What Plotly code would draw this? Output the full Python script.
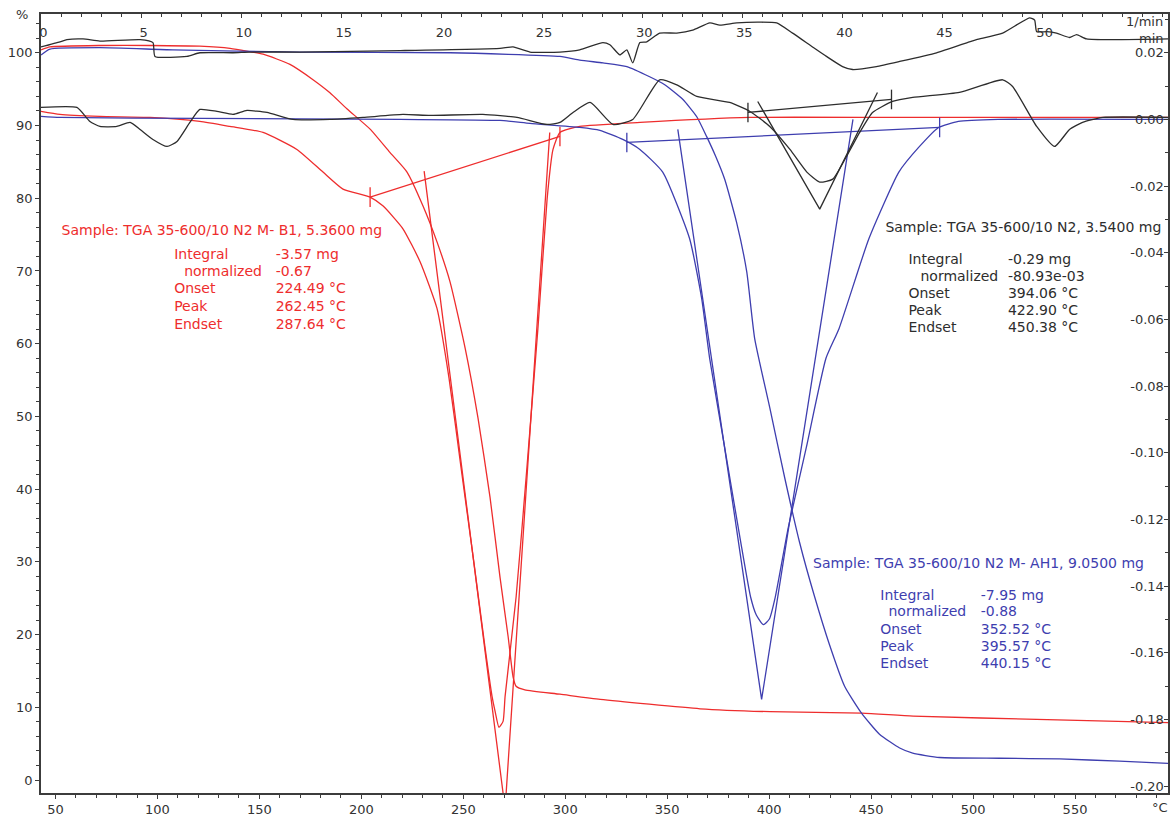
import plotly.graph_objects as go

# ---------------- sample M-B1, 5.3600 mg (red) ----------------
b1_tga_temp = [42.9, 47.3, 71.8, 96.3, 120.8, 135.6, 151.8, 165.0, 176.3, 184.6, 192.9, 204.3,
               214.0, 222.4, 230.3, 237.1, 243.5, 250.9, 257.2, 263.1, 268.0, 272.0, 274.4,
               275.9, 280.2, 297.4, 317.1, 366.1, 400.4, 445.5, 470.6, 536.3, 595.6]
b1_tga_mass = [100.4, 100.8, 101.0, 101.0, 100.9, 100.6, 99.8, 98.4, 96.3, 94.5, 92.3, 89.5,
               86.3, 83.6, 78.9, 74.0, 68.5, 59.4, 49.8, 38.9, 27.9, 19.7, 14.2,
               12.9, 12.4, 11.8, 11.1, 9.8, 9.4, 9.2, 8.8, 8.3, 7.9]

b1_dtg_temp = [42.9, 52.2, 71.8, 96.3, 120.8, 135.6, 151.8, 168.4, 181.2, 191.0, 204.3, 210.7,
               220.4, 228.8, 237.1, 243.0, 248.9, 255.5, 260.6, 264.1, 265.6, 267.5, 269.5,
               270.5, 275.9, 281.2, 286.6, 291.1, 294.0, 297.4, 307.1, 336.7, 390.6, 464.2, 595.6]
b1_dtg_rate = [0.0024, 0.0015, 0.0009, 0.0006, -0.0006, -0.0021, -0.0039, -0.0090, -0.0158,
               -0.0209, -0.0233, -0.0260, -0.0328, -0.0427, -0.0567, -0.0776, -0.1045, -0.1343,
               -0.1582, -0.1731, -0.1776, -0.1824, -0.1806, -0.1731, -0.1433, -0.1045, -0.0627,
               -0.0239, -0.0090, -0.0039, -0.0021, -0.0009, 0.0006, 0.0006, 0.0006]

b1_base_temp = [204.3, 297.4]
b1_base_rate = [-0.0233, -0.0051]
b1_tan_temp = [230.8, 270.5, 292.4]
b1_tan_rate = [-0.0155, -0.2069, -0.0039]

# ---------------- sample M-AH1, 9.0500 mg (blue) ----------------
ah1_tga_temp = [42.9, 47.3, 71.8, 107.6, 169.9, 243.5, 297.4, 307.1, 318.5, 330.2, 341.4, 348.8,
                357.6, 364.5, 369.3, 373.7, 378.2, 384.0, 389.0, 392.9, 400.3, 407.6, 414.9,
                422.3, 429.6, 437.0, 445.3, 454.1, 464.0, 470.4, 483.6, 513.0, 542.4, 571.8, 595.6]
ah1_tga_mass = [99.7, 100.5, 100.7, 100.4, 100.1, 100.0, 99.5, 99.0, 98.6, 98.1, 96.7, 95.6,
                93.6, 91.2, 88.5, 85.8, 82.6, 76.7, 69.9, 60.7, 51.2, 41.6, 32.7,
                25.2, 18.6, 12.9, 9.2, 6.3, 4.4, 3.7, 3.1, 3.0, 2.9, 2.6, 2.3]

ah1_dtg_temp = [42.9, 52.2, 120.8, 219.1, 268.0, 282.7, 307.1, 317.0, 328.2, 336.6, 347.8, 361.0,
                366.9, 370.8, 378.2, 386.5, 390.9, 393.7, 397.2, 400.1, 403.0, 409.4, 418.2,
                427.9, 434.3, 448.9, 463.6, 473.3, 483.1, 492.8, 512.3, 595.6]
ah1_dtg_rate = [0.0009, 0.0006, 0.0003, 0.0, -0.0003, -0.0012, -0.0024, -0.0033, -0.0060,
                -0.0090, -0.0158, -0.0358, -0.0537, -0.0716, -0.0985, -0.1284, -0.1433, -0.1487,
                -0.1516, -0.1499, -0.1433, -0.1224, -0.0985, -0.0716, -0.0627, -0.0358, -0.0158,
                -0.0084, -0.0024, -0.0006, 0.0, 0.0]

ah1_base_temp = [330.2, 483.6]
ah1_base_rate = [-0.0069, -0.0024]
ah1_tan_temp = [355.2, 396.3, 441.1]
ah1_tan_rate = [-0.0030, -0.1740, 0.0]

# ---------------- sample N2, 3.5400 mg (black) ----------------
n2_tga_temp = [42.9, 52.2, 55.6, 63.5, 71.8, 91.5, 97.8, 98.8, 114.5, 120.8, 137.1, 145.4, 169.9,
               219.1, 268.0, 274.4, 282.7, 297.4, 307.1, 318.5, 321.9, 326.8, 330.2, 333.1,
               336.6, 340.0, 346.3, 354.7, 362.5, 370.9, 375.8, 384.1, 395.4, 403.7, 411.5,
               421.3, 428.1, 436.0, 440.9, 452.6, 464.0, 482.1, 498.2, 501.7, 514.5, 527.7,
               530.2, 531.2, 536.1, 540.9, 547.3, 550.8, 555.7, 595.6]
n2_tga_mass = [100.8, 101.5, 101.8, 101.9, 101.6, 101.8, 101.4, 99.5, 99.5, 100.0, 100.0, 100.1,
               100.1, 100.3, 100.6, 100.8, 100.1, 100.1, 100.4, 101.4, 101.1, 99.7, 100.4, 98.6,
               101.4, 101.5, 102.7, 102.7, 103.1, 104.1, 103.8, 104.1, 104.2, 104.1, 102.7,
               100.8, 99.5, 98.1, 97.7, 98.1, 98.8, 100.0, 101.5, 101.8, 102.7, 104.8,
               104.5, 102.9, 102.9, 102.7, 102.1, 102.5, 101.9, 101.9]

n2_dtg_temp = [42.9, 60.5, 66.9, 71.8, 80.1, 86.6, 91.5, 97.8, 104.7, 109.6, 115.9, 120.8, 129.2,
               137.1, 143.9, 153.7, 166.5, 184.7, 200.8, 220.4, 233.7, 259.6, 276.3, 291.1,
               297.4, 303.8, 312.2, 323.4, 333.1, 346.3, 354.7, 364.5, 380.6, 390.6, 400.3,
               410.2, 418.5, 424.8, 431.2, 438.0, 444.4, 450.7, 460.5, 470.4, 493.3, 514.5,
               519.4, 531.2, 540.0, 547.3, 553.7, 563.6, 595.6]
n2_dtg_rate = [0.0036, 0.0036, -0.0006, -0.0021, -0.0021, -0.0009, -0.0030, -0.0060, -0.0081,
               -0.0066, -0.0009, 0.0030, 0.0024, 0.0015, 0.0027, 0.0021, 0.0, 0.0, 0.0006,
               0.0015, 0.0012, 0.0015, 0.0006, -0.0015, -0.0009, 0.0021, 0.0051, -0.0015, 0.0,
               0.0119, 0.0104, 0.0069, 0.0051, 0.0024, -0.0021, -0.0090, -0.0158, -0.0188,
               -0.0179, -0.0110, -0.0039, 0.0021, 0.0054, 0.0066, 0.0081, 0.0119, 0.0099,
               -0.0021, -0.0081, -0.0030, -0.0009, 0.0006, 0.0006]

n2_base_temp = [389.6, 460.0]
n2_base_rate = [0.0021, 0.0060]
n2_tan_temp = [394.4, 424.8, 453.1]
n2_tan_rate = [0.0054, -0.0269, 0.0081]

# ---------------- axes ----------------
temp_ticks = [50, 100, 150, 200, 250, 300, 350, 400, 450, 500, 550]
time_ticks = [0, 5, 10, 15, 20, 25, 30, 35, 40, 45, 50]
mass_ticks = [0, 10, 20, 30, 40, 50, 60, 70, 80, 90, 100]
rate_ticks = [0.02, 0.0, -0.02, -0.04, -0.06, -0.08, -0.10, -0.12, -0.14, -0.16, -0.18, -0.20]
rate_labels = ["0.02", "0.00", "-0.02", "-0.04", "-0.06", "-0.08", "-0.10", "-0.12",
               "-0.14", "-0.16", "-0.18", "-0.20"]

RED = "rgb(238,45,45)"
BLUE = "rgb(62,62,175)"
BLACK = "rgb(45,45,45)"
AXIS = "#3c3c3c"
LW = 1.3
FONT = "DejaVu Sans"

fig = go.Figure()


def curve(x, y, color, axis_y="y", ends=False, smooth=True):
    line = dict(color=color, width=LW)
    if smooth:
        line.update(shape="spline", smoothing=0.5)
    fig.add_trace(go.Scatter(
        x=x, y=y, xaxis="x", yaxis=axis_y,
        mode="lines+markers" if ends else "lines",
        line=line,
        marker=dict(symbol="line-ns-open", size=14, line=dict(color=color, width=LW)),
        hoverinfo="skip", showlegend=False))


# red sample
curve(b1_tga_temp, b1_tga_mass, RED)
curve(b1_dtg_temp, b1_dtg_rate, RED, "y2")
curve(b1_base_temp, b1_base_rate, RED, "y2", ends=True, smooth=False)
curve(b1_tan_temp, b1_tan_rate, RED, "y2", smooth=False)

# blue sample
curve(ah1_tga_temp, ah1_tga_mass, BLUE)
curve(ah1_dtg_temp, ah1_dtg_rate, BLUE, "y2")
curve(ah1_base_temp, ah1_base_rate, BLUE, "y2", ends=True, smooth=False)
curve(ah1_tan_temp, ah1_tan_rate, BLUE, "y2", smooth=False)

# black sample
curve(n2_tga_temp, n2_tga_mass, BLACK)
curve(n2_dtg_temp, n2_dtg_rate, BLACK, "y2")
curve(n2_base_temp, n2_base_rate, BLACK, "y2", ends=True, smooth=False)
curve(n2_tan_temp, n2_tan_rate, BLACK, "y2", smooth=False)

# empty trace so the time axis along the top is rendered
fig.add_trace(go.Scatter(x=[], y=[], xaxis="x2", yaxis="y", showlegend=False, hoverinfo="skip"))

# ---------------- evaluation text blocks ----------------
blocks = [
    dict(color=RED, title="Sample: TGA 35-600/10 N2 M- B1, 5.3600 mg", title_xy=(53.0, 75.4),
         label_x=108.2, norm_x=113.1, value_x=158.0, rows_y=[72.1, 69.8, 67.4, 65.0, 62.5],
         values=["-3.57 mg", "-0.67", "224.49 °C", "262.45 °C", "287.64 °C"]),
    dict(color=BLACK, title="Sample: TGA 35-600/10 N2, 3.5400 mg", title_xy=(457.0, 75.9),
         label_x=468.3, norm_x=474.2, value_x=517.1, rows_y=[71.4, 69.1, 66.8, 64.4, 62.1],
         values=["-0.29 mg", "-80.93e-03", "394.06 °C", "422.90 °C", "450.38 °C"]),
    dict(color=BLUE, title="Sample: TGA 35-600/10 N2 M- AH1, 9.0500 mg", title_xy=(421.5, 29.7),
         label_x=454.5, norm_x=458.5, value_x=503.8, rows_y=[25.3, 23.0, 20.5, 18.2, 15.9],
         values=["-7.95 mg", "-0.88", "352.52 °C", "395.57 °C", "440.15 °C"]),
]
row_names = ["Integral", "normalized", "Onset", "Peak", "Endset"]

for b in blocks:
    tx = [b["title_xy"][0]]
    ty = [b["title_xy"][1]]
    tt = [b["title"]]
    for i, name in enumerate(row_names):
        tx += [b["norm_x"] if name == "normalized" else b["label_x"], b["value_x"]]
        ty += [b["rows_y"][i], b["rows_y"][i]]
        tt += [name, b["values"][i]]
    fig.add_trace(go.Scatter(
        x=tx, y=ty, text=tt, mode="text", textposition="middle right",
        textfont=dict(family=FONT, size=14, color=b["color"]),
        xaxis="x", yaxis="y", cliponaxis=False, hoverinfo="skip", showlegend=False))

annotations = []


def text(x, y, s, anchor="center"):
    annotations.append(dict(x=x, y=y, xref="paper", yref="paper", text=s, showarrow=False,
                            xanchor=anchor, yanchor="middle",
                            font=dict(family=FONT, size=13, color="#333")))


# unit labels
text(-0.017, 1.0, "%")
text(0.979, 0.99, "1/min")
text(0.985, 0.968, "min")
text(0.993, -0.019, "°C")

axis_common = dict(showline=True, linecolor=AXIS, linewidth=1.5, showgrid=False, zeroline=False,
                   tickcolor=AXIS, tickwidth=1, fixedrange=True,
                   tickfont=dict(family=FONT, size=13, color="#333"))

fig.update_layout(
    width=1171, height=820, autosize=False,
    margin=dict(l=41, r=3, t=14, b=23),
    paper_bgcolor="white", plot_bgcolor="white",
    hovermode=False, showlegend=False,
    xaxis=dict(range=[42.9, 595.6], tickmode="array", tickvals=temp_ticks,
               ticks="outside", ticklen=4, anchor="y",
               minor=dict(tick0=50, dtick=10, ticks="outside", ticklen=3, tickcolor=AXIS),
               **axis_common),
    xaxis2=dict(range=[-0.02, 56.26], overlaying="x", side="top", anchor="y",
                tickmode="array", tickvals=time_ticks, ticks="inside", ticklen=4,
                ticklabelposition="inside", ticklabeloverflow="allow", ticklabelstandoff=10,
                ticklabelshift=2,
                minor=dict(tick0=0, dtick=1, ticks="inside", ticklen=3, tickcolor=AXIS),
                **axis_common),
    yaxis=dict(range=[-1.78, 105.33], tickmode="array", tickvals=mass_ticks,
               ticks="outside", ticklen=4, anchor="x",
               minor=dict(tick0=0, dtick=2, ticks="outside", ticklen=3, tickcolor=AXIS),
               **axis_common),
    yaxis2=dict(range=[-0.2021, 0.03164], overlaying="y", side="right", anchor="x",
                tickmode="array", tickvals=rate_ticks, ticktext=rate_labels,
                ticks="inside", ticklen=4, ticklabelposition="inside",
                ticklabeloverflow="allow",
                minor=dict(tick0=0, dtick=0.01, ticks="inside", ticklen=3, tickcolor=AXIS),
                **axis_common),
    annotations=annotations,
)

fig.write_html("out.html")
